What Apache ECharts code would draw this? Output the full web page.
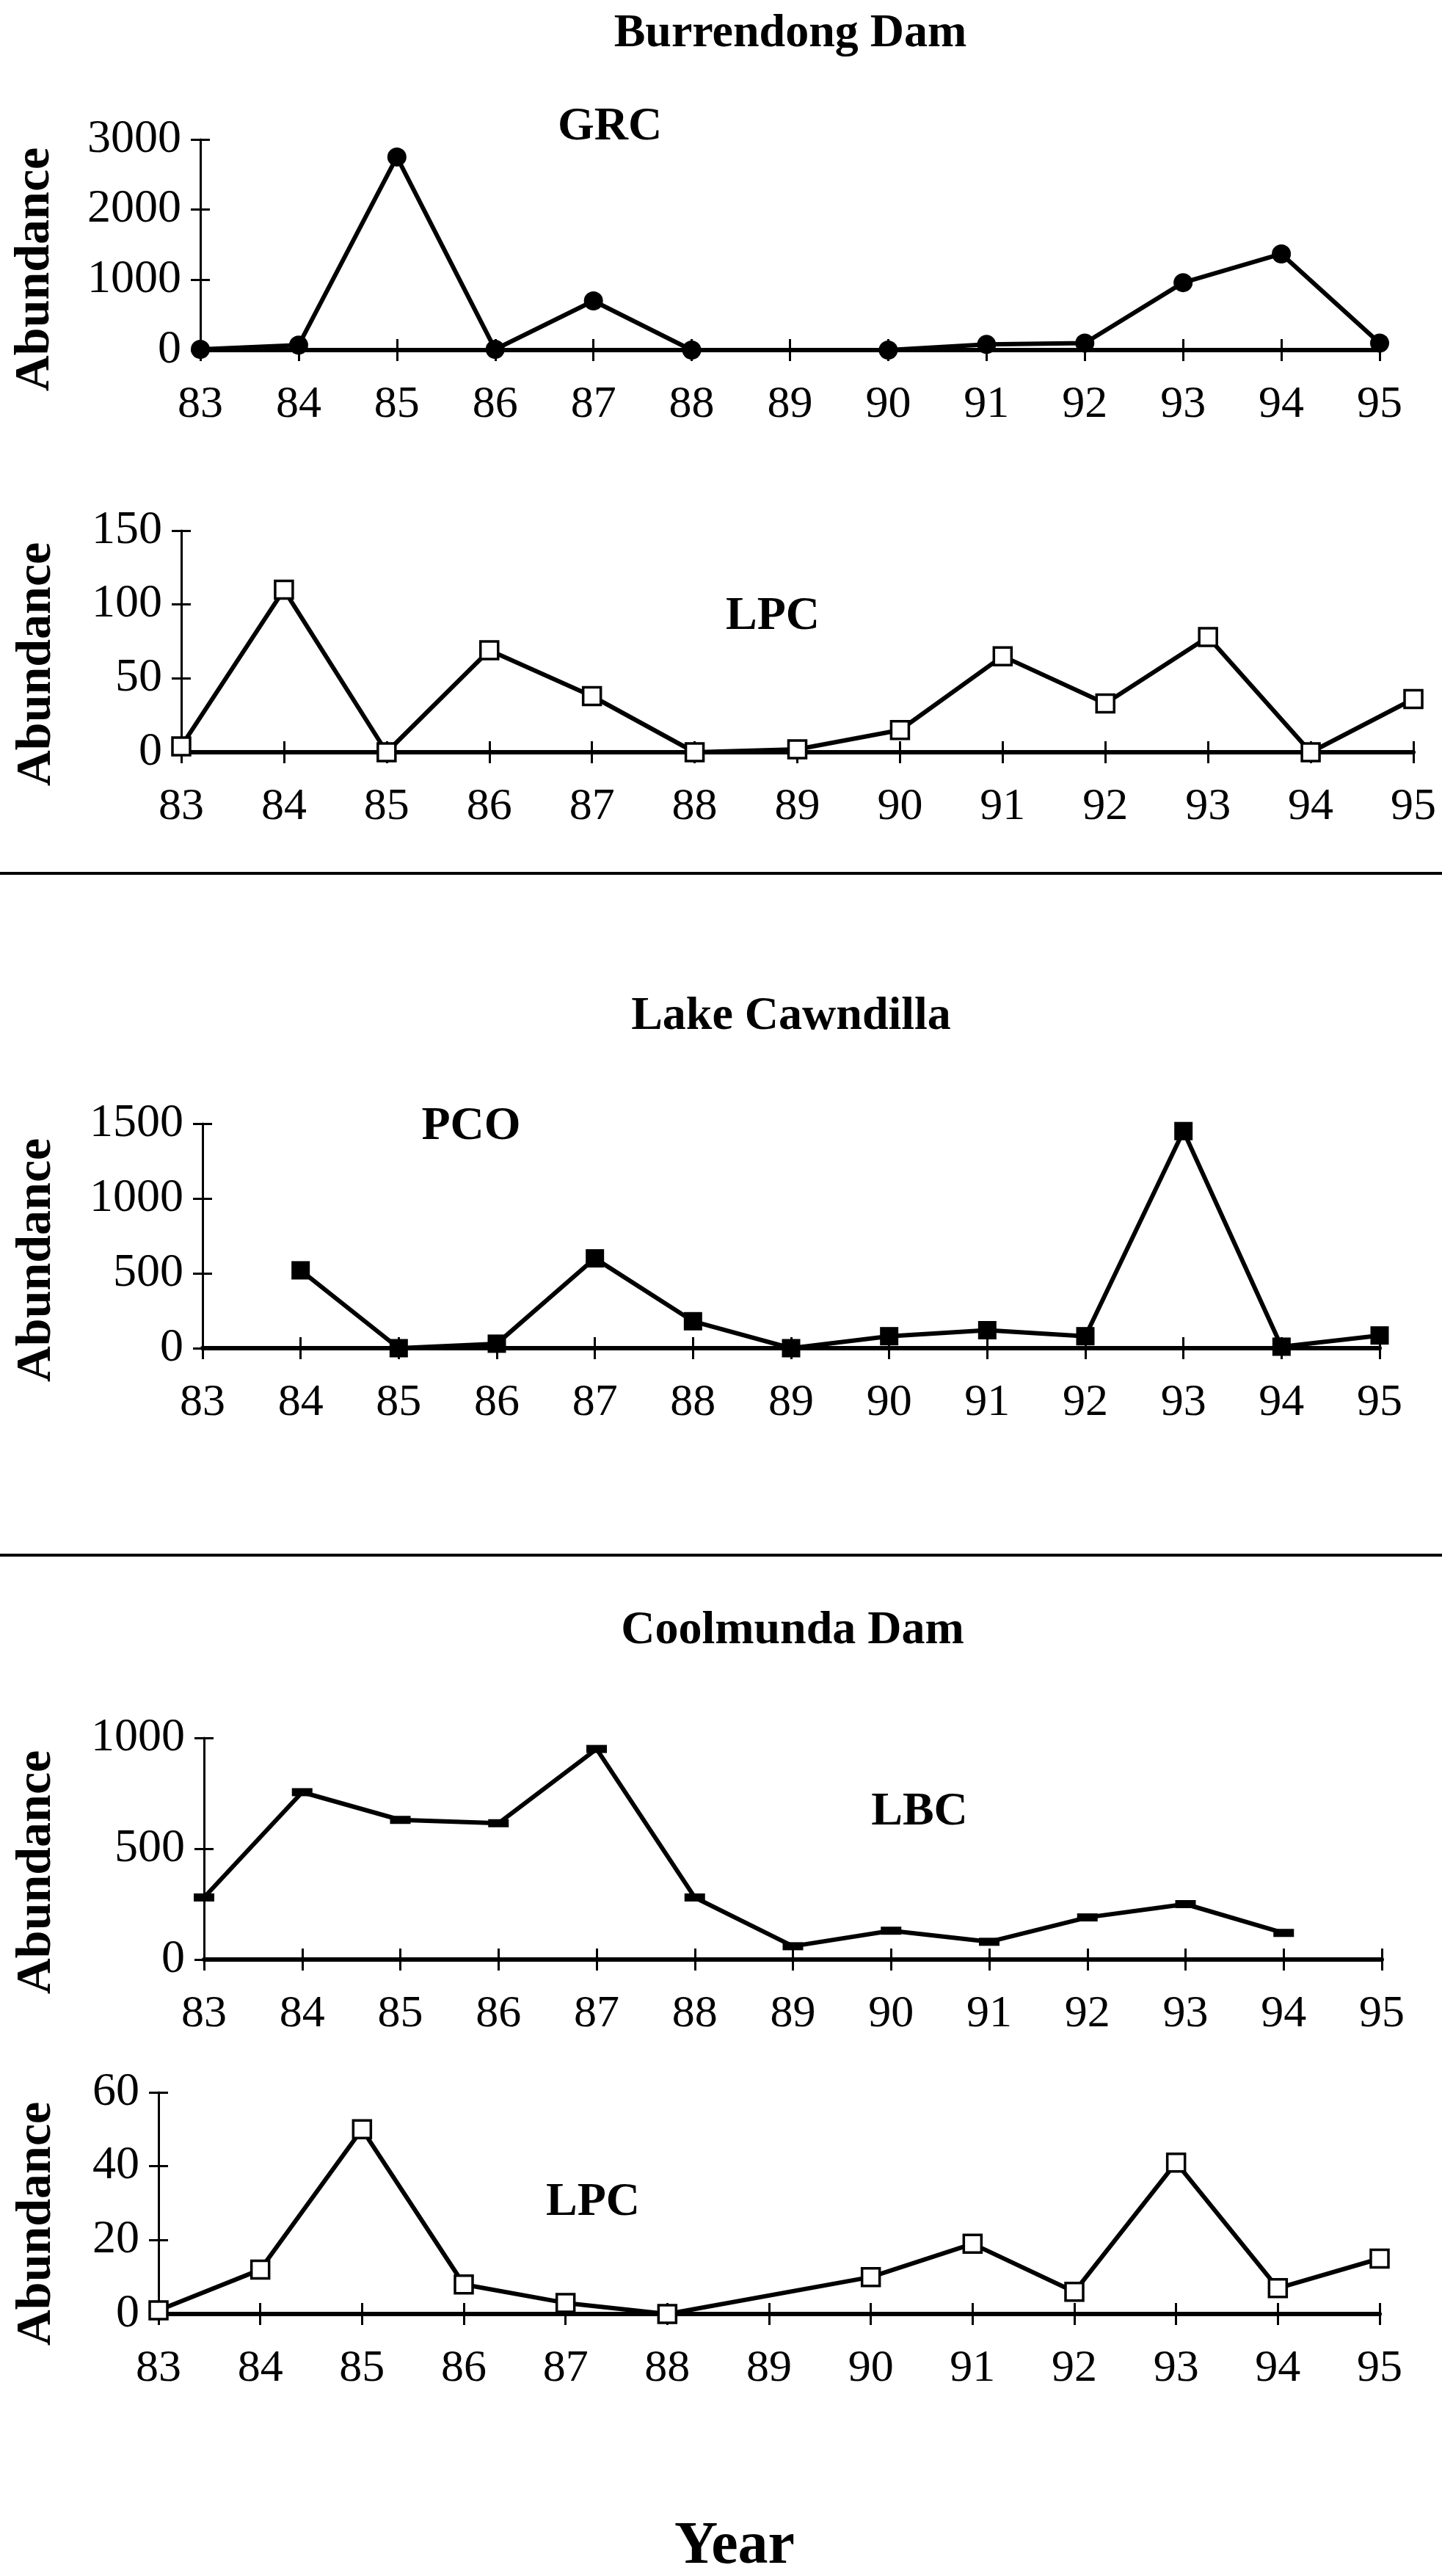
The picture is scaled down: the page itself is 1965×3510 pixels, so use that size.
<!DOCTYPE html>
<html>
<head>
<meta charset="utf-8">
<script src="https://cdn.jsdelivr.net/npm/echarts@6/dist/echarts.min.js"></script>
<style>
  html, body { margin: 0; padding: 0; background: #fff; }
  #chart { width: 1965px; height: 3510px; }
</style>
</head>
<body>
<div id="chart"></div>
<script>
// Survey years (19xx)
const years = ['83', '84', '85', '86', '87', '88', '89', '90', '91', '92', '93', '94', '95'];

// Abundance per year; null = not sampled
const grcBurrendong = [10, 70, 2750, 10, 700, 0, null, 0, 80, 100, 960, 1370, 100];
const lpcBurrendong = [4, 110, 0, 69, 38, 0, 2, 15, 65, 33, 78, 0, 36];
const pcoCawndilla  = [null, 520, 0, 30, 600, 180, 0, 80, 120, 80, 1450, 10, 85];
const lbcCoolmunda  = [280, 755, 630, 615, 950, 280, 60, 130, 80, 190, 250, 120, null];
const lpcCoolmunda  = [1, 12, 50, 8, 3, 0, null, 10, 19, 6, 41, 7, 15];

// Y-axis ranges per panel
const yMax      = [3000, 150, 1500, 1000, 60];
const yInterval = [1000, 50, 500, 500, 20];

const FONT = '"Liberation Serif", "Times New Roman", serif';

const panels = [
  { grid: { left: 273, top: 190,  width: 1607, height: 287 }, data: grcBurrendong, symbol: 'circle', size: 26, fill: '#000' },
  { grid: { left: 247, top: 723,  width: 1679, height: 302 }, data: lpcBurrendong, symbol: 'rect', size: 24, fill: '#fff' },
  { grid: { left: 276, top: 1531, width: 1604, height: 306 }, data: pcoCawndilla,  symbol: 'rect', size: 25, fill: '#000' },
  { grid: { left: 278, top: 2368, width: 1605, height: 302 }, data: lbcCoolmunda,  symbol: 'rect', size: [28, 11], fill: '#000' },
  { grid: { left: 216, top: 2851, width: 1664, height: 302 }, data: lpcCoolmunda,  symbol: 'rect', size: 24, fill: '#fff' }
];

const grid = [], xAxis = [], yAxis = [], series = [];
const tickStyle = { color: '#000', width: 3 };

panels.forEach((p, i) => {
  grid.push(Object.assign({ containLabel: false }, p.grid));

  // main category axis (outer ticks + labels)
  xAxis.push({
    type: 'category', gridIndex: i, data: years, boundaryGap: false, position: 'bottom',
    axisLine: { show: true, onZero: false, lineStyle: { color: '#000', width: 6 } },
    axisTick: { show: true, length: 15, lineStyle: tickStyle },
    axisLabel: { interval: 0, margin: 44, fontSize: 62, fontFamily: FONT, color: '#000' },
    splitLine: { show: false }
  });
  // companion axis drawing the inner half of the crossing ticks
  xAxis.push({
    type: 'category', gridIndex: i, data: years, boundaryGap: false, position: 'bottom',
    axisLine: { show: false, onZero: false },
    axisTick: { show: true, inside: true, length: 15, lineStyle: tickStyle },
    axisLabel: { show: false }, splitLine: { show: false }
  });

  yAxis.push({
    type: 'value', gridIndex: i, min: 0, max: yMax[i], interval: yInterval[i], position: 'left',
    axisLine: { show: true, onZero: false, lineStyle: { color: '#000', width: 3 } },
    axisTick: { show: true, length: 13, lineStyle: tickStyle },
    axisLabel: { margin: 26, fontSize: 64, fontFamily: FONT, color: '#000', formatter: v => String(v) },
    splitLine: { show: false }
  });
  yAxis.push({
    type: 'value', gridIndex: i, min: 0, max: yMax[i], interval: yInterval[i], position: 'left',
    axisLine: { show: false, onZero: false },
    axisTick: { show: true, inside: true, length: 13, lineStyle: tickStyle },
    axisLabel: { show: false }, splitLine: { show: false }
  });

  series.push({
    type: 'line', xAxisIndex: 2 * i, yAxisIndex: 2 * i, data: p.data,
    symbol: p.symbol, symbolSize: p.size, showAllSymbol: true, showSymbol: true,
    connectNulls: true, clip: false,
    lineStyle: { color: '#000', width: 6 },
    itemStyle: { color: p.fill, borderColor: '#000', borderWidth: p.fill === '#fff' ? 3.5 : 0 },
    z: 5
  });
});

function text(str, x, y, size, rot) {
  return {
    type: 'text', x: x, y: y, rotation: rot || 0, z: 10,
    style: {
      text: str, x: 0, y: 0, fill: '#000',
      font: 'bold ' + size + 'px ' + FONT,
      align: 'center', verticalAlign: 'middle',
      textAlign: 'center', textVerticalAlign: 'middle'
    }
  };
}

function rule(y) {
  return { type: 'line', z: 10, shape: { x1: 0, y1: y, x2: 1965, y2: y }, style: { stroke: '#000', lineWidth: 4 } };
}

const graphic = [
  text('Burrendong Dam', 1077, 46, 64),
  text('GRC', 831, 173, 64),
  text('LPC', 1053, 840, 64),
  rule(1190),
  text('Lake Cawndilla', 1078, 1385, 64),
  text('PCO', 642, 1535, 64),
  rule(2119),
  text('Coolmunda Dam', 1080, 2222, 64),
  text('LBC', 1253, 2469, 64),
  text('LPC', 808, 3001, 64),
  text('Year', 1001, 3471, 82),
  text('Abundance', 48, 367, 68, Math.PI / 2),
  text('Abundance', 50, 905, 68, Math.PI / 2),
  text('Abundance', 50, 1717, 68, Math.PI / 2),
  text('Abundance', 50, 2551, 68, Math.PI / 2),
  text('Abundance', 50, 3030, 68, Math.PI / 2)
];

const chart = echarts.init(document.getElementById('chart'), null, { renderer: 'canvas' });
chart.setOption({
  animation: false,
  backgroundColor: '#fff',
  textStyle: { fontFamily: FONT },
  grid: grid,
  xAxis: xAxis,
  yAxis: yAxis,
  series: series,
  graphic: graphic
});
</script>
</body>
</html>
